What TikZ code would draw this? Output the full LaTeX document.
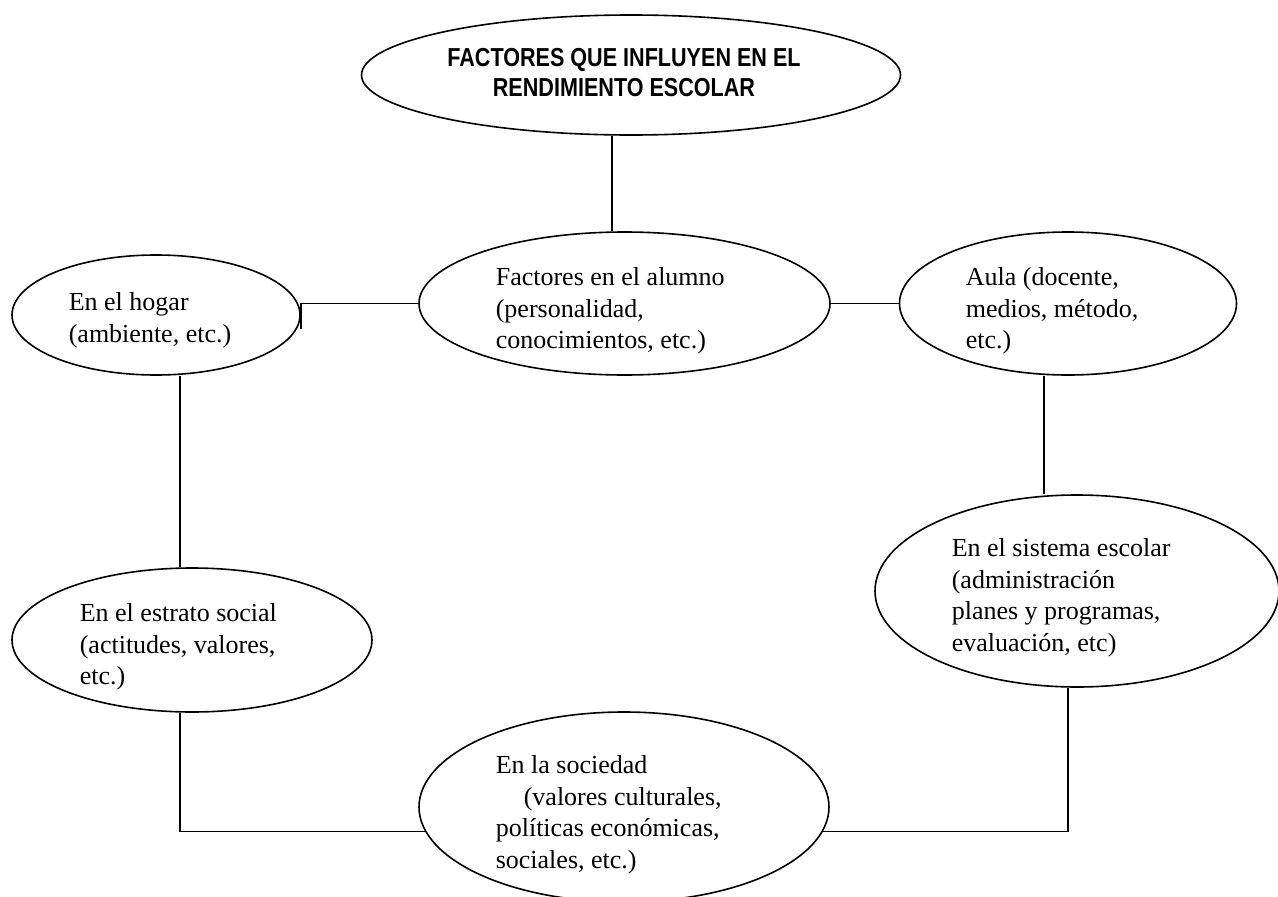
\documentclass[tikz,border=0pt]{standalone}
\usepackage{fontspec}
\setmainfont{Liberation Serif}
\newfontfamily\titlefont[FakeStretch=0.83]{Liberation Sans}
\usetikzlibrary{shapes.geometric}
\begin{document}
\begin{tikzpicture}[x=1pt,y=-1pt,line width=1.6pt,
  oval/.style={draw, ellipse, inner sep=0pt},
  txt/.style={anchor=north west, inner sep=0pt, align=left, font=\fontsize{26}{31.5}\selectfont},
  ttl/.style={anchor=center, inner sep=0pt, align=center, font=\titlefont\bfseries\fontsize{26}{30}\selectfont}]
\useasboundingbox (0,0) rectangle (1278,897);
\clip (0,0) rectangle (1278,897);
% ellipses
\node[oval, minimum width=539pt, minimum height=120pt] (top) at (631,75) {};
\node[oval, minimum width=288pt, minimum height=120pt] (hogar) at (156,315) {};
\node[oval, minimum width=411pt, minimum height=143pt] (alumno) at (624.5,303.5) {};
\node[oval, minimum width=337pt, minimum height=143pt] (aula) at (1068,303.5) {};
\node[oval, minimum width=404pt, minimum height=192pt] (sistema) at (1077,591) {};
\node[oval, minimum width=360pt, minimum height=144pt] (estrato) at (192,640) {};
\node[oval, minimum width=410pt, minimum height=190pt] (sociedad) at (624,807) {};
% texts
\node[ttl] (ttop) at (624,73) {FACTORES QUE INFLUYEN EN EL\\RENDIMIENTO ESCOLAR};
\node[txt] (thogar) at (68,292) {En el hogar\\(ambiente, etc.)};
\node[txt] (talumno) at (495,267) {Factores en el alumno\\(personalidad,\\conocimientos, etc.)};
\node[txt] (taula) at (965,267) {Aula (docente,\\medios, método,\\etc.)};
\node[txt] (tsistema) at (951,538) {En el sistema escolar\\(administración\\planes y programas,\\evaluación, etc)};
\node[txt] (testrato) at (79,603) {En el estrato social\\(actitudes, valores,\\etc.)};
\node[txt] (tsociedad) at (495,755) {En la sociedad\\\hspace*{28pt}(valores culturales,\\políticas económicas,\\sociales, etc.)};
% connectors
\coordinate (vx1) at (612,0);
\coordinate (vx2) at (1044,0);
\coordinate (vx3) at (180,0);
\coordinate (vx4) at (1068,0);
\draw (top.south -| vx1) -- (alumno.north -| vx1);
\draw (alumno.west) -- (alumno.west -| hogar.east) -- ++(0,25);
\draw (alumno.east) -- (alumno.east -| aula.west);
\draw (aula.south -| vx2) -- (sistema.north -| vx2);
\draw (hogar.south -| vx3) -- (estrato.north -| vx3);
\draw (estrato.south -| vx3) |- (sociedad.187);
\draw (sistema.south -| vx4) |- (sociedad.-7);
\end{tikzpicture}
\end{document}
